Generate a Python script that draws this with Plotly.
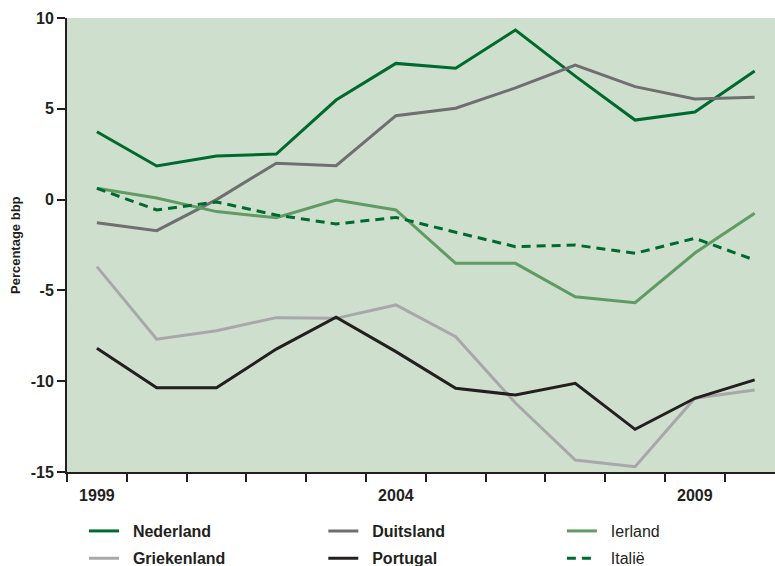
import plotly.graph_objects as go

years = list(range(1999, 2011))
nederland = [3.74, 1.85, 2.40, 2.51, 5.48, 7.50, 7.23, 9.34, 6.80, 4.38, 4.82, 7.08]
duitsland = [-1.27, -1.71, 0.0, 2.00, 1.87, 4.62, 5.03, 6.15, 7.41, 6.22, 5.54, 5.63]
ierland = [0.62, 0.09, -0.66, -1.00, -0.02, -0.57, -3.51, -3.51, -5.35, -5.68, -2.94, -0.75]
griekenland = [-3.69, -7.69, -7.22, -6.50, -6.54, -5.80, -7.55, -11.20, -14.34, -14.71, -10.94, -10.48]
portugal = [-8.19, -10.36, -10.36, -8.23, -6.48, -8.37, -10.39, -10.76, -10.12, -12.65, -10.94, -9.93]
italie = [0.62, -0.57, -0.13, -0.85, -1.34, -0.98, -1.80, -2.59, -2.50, -2.96, -2.13, -3.33]

x_tick_vals = [1999, 2004, 2009]
x_tick_text = ["1999", "2004", "2009"]
y_tick_vals = [-15, -10, -5, 0, 5, 10]
y_tick_text = ["-15", "-10", "-5", "0", "5", "10"]

DARK = "#231F20"
series = [
    ("Nederland", nederland, "#006A2E", "solid", True, "legend", 0.024, -0.130),
    ("Duitsland", duitsland, "#6F6E70", "solid", True, "legend2", 0.362, -0.130),
    ("Ierland", ierland, "#5F9B63", "solid", False, "legend3", 0.699, -0.130),
    ("Griekenland", griekenland, "#A8A8AB", "solid", True, "legend4", 0.024, -0.190),
    ("Portugal", portugal, DARK, "solid", True, "legend5", 0.362, -0.190),
    ("Italië", italie, "#006A2E", "9px,6px", False, "legend6", 0.699, -0.190),
]

fig = go.Figure()
layout_legends = {}
for name, vals, color, dash, bold, lg, lx, ly in series:
    label = "\u00a0\u00a0" + name
    fig.add_trace(go.Scatter(
        x=years, y=vals, mode="lines", name=label,
        line=dict(color=color, width=3, dash=dash),
        legend=lg,
    ))
    layout_legends[lg] = dict(
        x=lx, y=ly, xanchor="left", yanchor="middle",
        bgcolor="rgba(0,0,0,0)", borderwidth=0,
        font=dict(family="Liberation Sans, Arial, sans-serif", size=16, color=DARK,
                  weight="bold" if bold else "normal"),
    )

fig.update_layout(
    width=775, height=566,
    margin=dict(l=67, r=0, t=18, b=94, autoexpand=False),
    paper_bgcolor="white",
    plot_bgcolor="#CEDFCE",
    showlegend=True,
    font=dict(family="Liberation Sans, Arial, sans-serif", color=DARK),
    **layout_legends,
)

fig.update_xaxes(
    range=[1998.5, 2010.34], automargin=False,
    tickmode="array", tickvals=x_tick_vals, ticktext=x_tick_text,
    ticks="outside", ticklen=8, tickcolor="rgba(0,0,0,0)",
    tickfont=dict(size=16, weight="bold", color=DARK),
    showgrid=False, zeroline=False,
    showline=True, linecolor=DARK, linewidth=2,
    minor=dict(tickmode="array", tickvals=[y - 0.5 for y in years] + [2010.5],
               ticks="outside", ticklen=8, tickcolor=DARK, tickwidth=1.5, showgrid=False),
)
fig.update_yaxes(
    range=[-15, 10], automargin=False,
    tickmode="array", tickvals=y_tick_vals, ticktext=y_tick_text,
    ticks="outside", ticklen=8, tickcolor=DARK, tickwidth=1.5,
    tickfont=dict(size=16, weight="bold", color=DARK),
    showgrid=False, zeroline=False,
    showline=True, linecolor=DARK, linewidth=2,
)

fig.add_annotation(
    text="Percentage bbp", textangle=-90,
    xref="paper", yref="paper", x=0, y=0.5, xanchor="center", yanchor="middle",
    xshift=-52, showarrow=False,
    font=dict(size=13, weight="bold", color=DARK),
)

fig.write_html(
    "out.html",
    config={"displayModeBar": False},
    post_script="document.body.style.margin='0';document.body.style.padding='0';",
)
